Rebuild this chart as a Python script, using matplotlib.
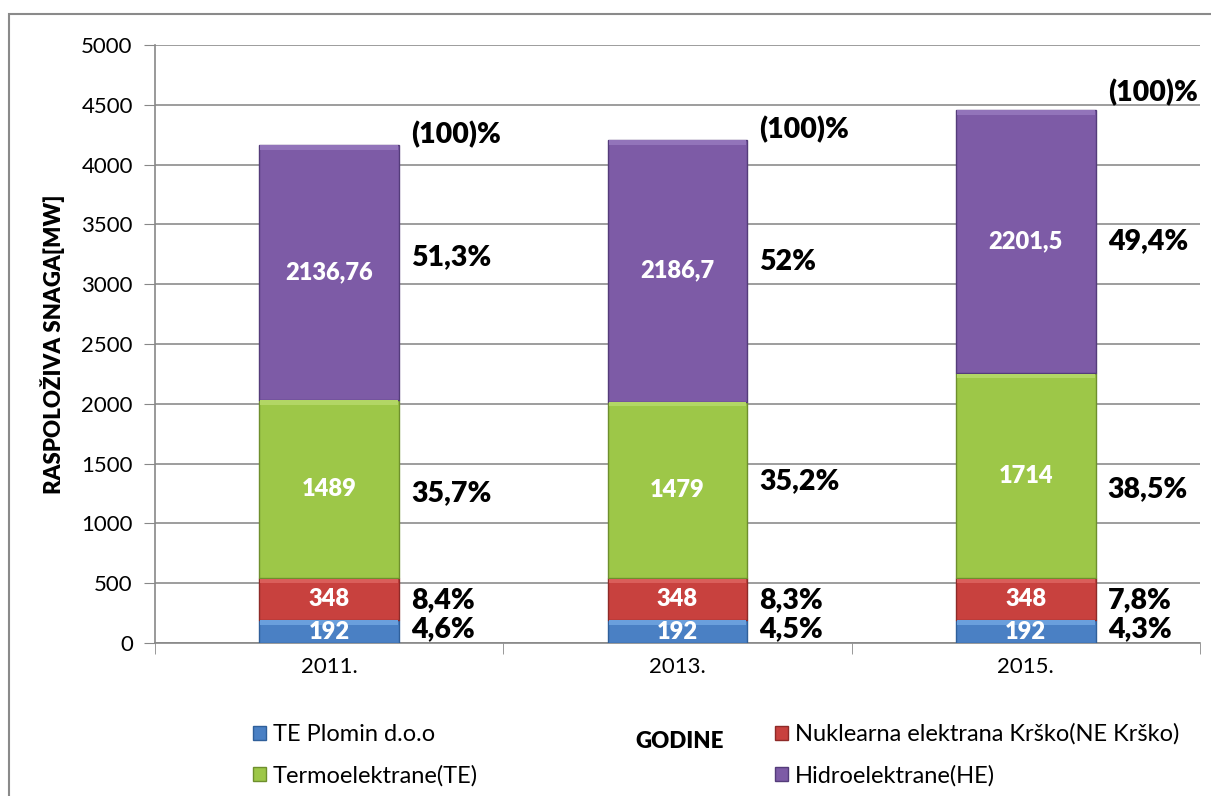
import numpy as np
import matplotlib.pyplot as plt
from matplotlib.patches import Rectangle

plt.rcParams['font.family'] = ['Lato', 'DejaVu Sans']

years = ['2011.', '2013.', '2015.']
series = ['TE Plomin d.o.o', 'Nuklearna elektrana Krško(NE Krško)',
          'Termoelektrane(TE)', 'Hidroelektrane(HE)']
plomin = [192, 192, 192]
krsko = [348, 348, 348]
termo = [1489, 1479, 1714]
hidro = [2136.76, 2186.7, 2201.5]
value_labels = [['192', '192', '192'],
                ['348', '348', '348'],
                ['1489', '1479', '1714'],
                ['2136,76', '2186,7', '2201,5']]
pct_labels = [['4,6%', '4,5%', '4,3%'],
              ['8,4%', '8,3%', '7,8%'],
              ['35,7%', '35,2%', '38,5%'],
              ['51,3%', '52%', '49,4%'],
              ['(100)%', '(100)%', '(100)%']]

colors = ['#4A80C4', '#C8413E', '#9DC748', '#7D5BA6']
lights = ['#6A9FDC', '#DA5E5A', '#B2D665', '#9274BA']
edges = ['#2F5F9A', '#8E2A28', '#6E8F2D', '#543C7A']
# y positions (MW) of the percent labels, as placed in the original
pct_y = [[117, 117, 117],
         [360, 360, 360],
         [1254, 1350, 1290],
         [3227, 3185, 3360],
         [4247, 4290, 4600]]

fig = plt.figure(figsize=(12.11, 7.96), dpi=100)
ax = fig.add_axes([155 / 1211, 1 - 643 / 796, (1200 - 155) / 1211, (643 - 45) / 796])

x = np.arange(len(years))
bottom = np.zeros(len(years))
handles = []
for k, vals in enumerate([plomin, krsko, termo, hidro]):
    b = ax.bar(x, vals, width=0.4, bottom=bottom, color=colors[k],
               edgecolor=edges[k], linewidth=1, zorder=3, label=series[k])
    handles.append(b)
    # bevel highlight along the top of each segment
    top = bottom + np.array(vals)
    ax.bar(x, [40] * len(x), width=0.396, bottom=top - 41, color=lights[k],
           linewidth=0, zorder=3.5)
    for i in range(len(years)):
        ax.text(x[i], bottom[i] + vals[i] / 2, value_labels[k][i], color='white',
                fontsize=17, fontweight='heavy', ha='center', va='center', zorder=4)
    bottom = top

for k in range(5):
    for i in range(len(years)):
        ax.text(x[i] + 0.235, pct_y[k][i], pct_labels[k][i], fontsize=20.5,
                fontweight='heavy', ha='left', va='center', zorder=4)

ax.set_xlim(-0.5, 2.5)
ax.set_ylim(0, 5000)
ax.set_yticks(np.arange(0, 5001, 500))
ax.set_xticks(x)
ax.set_xticklabels(years, fontsize=16)
ax.set_xticks([-0.5, 0.5, 1.5, 2.5], minor=True)
ax.tick_params(axis='x', which='major', length=0, pad=10)
ax.tick_params(axis='x', which='minor', length=8, color='#888888', direction='out')
ax.tick_params(axis='y', labelsize=16, length=8, color='#888888', pad=8)
ax.grid(axis='y', color='#8c8c8c', linewidth=1.2, zorder=0)
for s in ['top', 'right']:
    ax.spines[s].set_visible(False)
for s in ['left', 'bottom']:
    ax.spines[s].set_color('#888888')
    ax.spines[s].set_linewidth(1.2)
ax.set_ylabel('RASPOLOŽIVA SNAGA[MW]', fontsize=16, fontweight='heavy', labelpad=12)

fig.text(680 / 1211, 1 - 741 / 796, 'GODINE', fontsize=16, fontweight='heavy',
         ha='center', va='center')

order = [0, 2, 1, 3]
fig.legend([handles[i] for i in order], [series[i] for i in order], ncol=2,
           loc='upper left', bbox_to_anchor=(236 / 1211, 1 - 707 / 796),
           frameon=False, fontsize=17, handlelength=0.55, handleheight=0.55,
           handletextpad=0.3, columnspacing=12.6, labelspacing=0.85,
           borderpad=0.2)

fig.patches.append(Rectangle((9 / 1211, -0.1), 1.2, 1.1 - 14 / 796,
                             transform=fig.transFigure, fill=False,
                             edgecolor='#8a8a8a', linewidth=1.5))

fig.savefig('out.png', dpi=100)
